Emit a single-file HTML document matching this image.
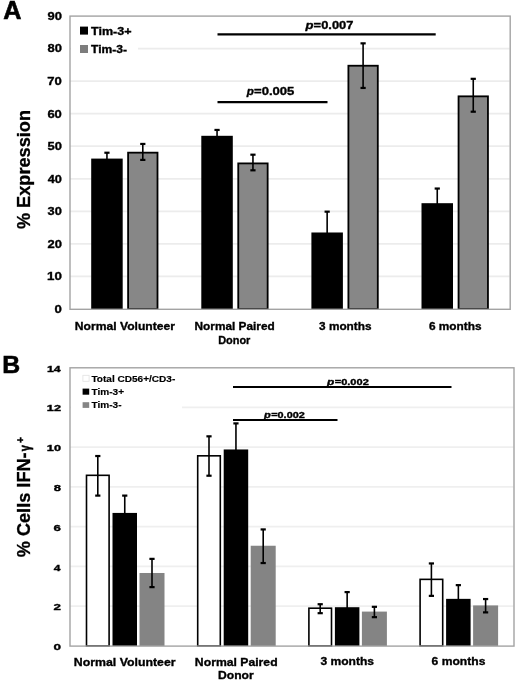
<!DOCTYPE html>
<html><head><meta charset="utf-8"><style>
html,body{margin:0;padding:0;background:#fff;}
svg{display:block;font-family:"Liberation Sans", sans-serif;filter:blur(0.55px);}
</style></head><body>
<svg width="520" height="682" viewBox="0 0 520 682">
<rect x="0" y="0" width="520" height="682" fill="#fff"/>
<line x1="70.00" y1="276.44" x2="509.50" y2="276.44" stroke="#ececec" stroke-width="1.8"/>
<line x1="70.00" y1="243.89" x2="509.50" y2="243.89" stroke="#ececec" stroke-width="1.8"/>
<line x1="70.00" y1="211.33" x2="509.50" y2="211.33" stroke="#ececec" stroke-width="1.8"/>
<line x1="70.00" y1="178.78" x2="509.50" y2="178.78" stroke="#ececec" stroke-width="1.8"/>
<line x1="70.00" y1="146.22" x2="509.50" y2="146.22" stroke="#ececec" stroke-width="1.8"/>
<line x1="70.00" y1="113.67" x2="509.50" y2="113.67" stroke="#ececec" stroke-width="1.8"/>
<line x1="70.00" y1="81.11" x2="509.50" y2="81.11" stroke="#ececec" stroke-width="1.8"/>
<line x1="70.00" y1="48.56" x2="509.50" y2="48.56" stroke="#ececec" stroke-width="1.8"/>
<rect x="71.00" y="20.00" width="67.00" height="38.00" fill="#fff"/>
<rect x="91.20" y="158.59" width="31.50" height="150.41" fill="#000"/>
<rect x="128.10" y="152.66" width="29.40" height="156.34" fill="#878787" stroke="#000" stroke-width="1.8"/>
<line x1="106.95" y1="152.73" x2="106.95" y2="164.45" stroke="#000" stroke-width="1.6"/>
<rect x="104.35" y="151.63" width="5.20" height="2.20" fill="#000"/>
<rect x="104.35" y="163.35" width="5.20" height="2.20" fill="#000"/>
<line x1="142.80" y1="143.94" x2="142.80" y2="159.90" stroke="#000" stroke-width="1.6"/>
<rect x="140.20" y="142.84" width="5.20" height="2.20" fill="#000"/>
<rect x="140.20" y="158.80" width="5.20" height="2.20" fill="#000"/>
<rect x="201.30" y="135.80" width="31.50" height="173.20" fill="#000"/>
<rect x="238.25" y="163.40" width="29.40" height="145.60" fill="#878787" stroke="#000" stroke-width="1.8"/>
<line x1="217.05" y1="129.94" x2="217.05" y2="141.66" stroke="#000" stroke-width="1.6"/>
<rect x="214.45" y="128.84" width="5.20" height="2.20" fill="#000"/>
<rect x="214.45" y="140.56" width="5.20" height="2.20" fill="#000"/>
<line x1="252.95" y1="154.69" x2="252.95" y2="170.31" stroke="#000" stroke-width="1.6"/>
<rect x="250.35" y="153.59" width="5.20" height="2.20" fill="#000"/>
<rect x="250.35" y="169.21" width="5.20" height="2.20" fill="#000"/>
<rect x="311.40" y="232.49" width="31.50" height="76.51" fill="#000"/>
<rect x="348.40" y="65.73" width="29.40" height="243.27" fill="#878787" stroke="#000" stroke-width="1.8"/>
<line x1="327.15" y1="211.66" x2="327.15" y2="253.33" stroke="#000" stroke-width="1.6"/>
<rect x="324.55" y="210.56" width="5.20" height="2.20" fill="#000"/>
<rect x="324.55" y="252.23" width="5.20" height="2.20" fill="#000"/>
<line x1="363.10" y1="43.35" x2="363.10" y2="87.95" stroke="#000" stroke-width="1.6"/>
<rect x="360.50" y="42.25" width="5.20" height="2.20" fill="#000"/>
<rect x="360.50" y="86.85" width="5.20" height="2.20" fill="#000"/>
<rect x="421.50" y="203.19" width="31.50" height="105.81" fill="#000"/>
<rect x="458.55" y="96.34" width="29.40" height="212.66" fill="#878787" stroke="#000" stroke-width="1.8"/>
<line x1="437.25" y1="188.54" x2="437.25" y2="217.84" stroke="#000" stroke-width="1.6"/>
<rect x="434.65" y="187.44" width="5.20" height="2.20" fill="#000"/>
<rect x="434.65" y="216.74" width="5.20" height="2.20" fill="#000"/>
<line x1="473.25" y1="78.83" x2="473.25" y2="111.71" stroke="#000" stroke-width="1.6"/>
<rect x="470.65" y="77.73" width="5.20" height="2.20" fill="#000"/>
<rect x="470.65" y="110.61" width="5.20" height="2.20" fill="#000"/>
<rect x="70.00" y="16.10" width="440.20" height="293.20" fill="none" stroke="#a3a3a3" stroke-width="1.4"/>
<text x="54.56" y="312.90" font-size="11" font-weight="bold" font-style="normal" textLength="7.31" lengthAdjust="spacingAndGlyphs" fill="#000" stroke="#000" stroke-width="0.35" >0</text>
<text x="47.03" y="280.34" font-size="11" font-weight="bold" font-style="normal" textLength="14.84" lengthAdjust="spacingAndGlyphs" fill="#000" stroke="#000" stroke-width="0.35" >10</text>
<text x="47.43" y="247.79" font-size="11" font-weight="bold" font-style="normal" textLength="14.43" lengthAdjust="spacingAndGlyphs" fill="#000" stroke="#000" stroke-width="0.35" >20</text>
<text x="47.58" y="215.23" font-size="11" font-weight="bold" font-style="normal" textLength="14.27" lengthAdjust="spacingAndGlyphs" fill="#000" stroke="#000" stroke-width="0.35" >30</text>
<text x="47.68" y="182.68" font-size="11" font-weight="bold" font-style="normal" textLength="14.17" lengthAdjust="spacingAndGlyphs" fill="#000" stroke="#000" stroke-width="0.35" >40</text>
<text x="47.48" y="150.12" font-size="11" font-weight="bold" font-style="normal" textLength="14.38" lengthAdjust="spacingAndGlyphs" fill="#000" stroke="#000" stroke-width="0.35" >50</text>
<text x="47.40" y="117.57" font-size="11" font-weight="bold" font-style="normal" textLength="14.46" lengthAdjust="spacingAndGlyphs" fill="#000" stroke="#000" stroke-width="0.35" >60</text>
<text x="47.31" y="85.01" font-size="11" font-weight="bold" font-style="normal" textLength="14.55" lengthAdjust="spacingAndGlyphs" fill="#000" stroke="#000" stroke-width="0.35" >70</text>
<text x="47.46" y="52.46" font-size="11" font-weight="bold" font-style="normal" textLength="14.39" lengthAdjust="spacingAndGlyphs" fill="#000" stroke="#000" stroke-width="0.35" >80</text>
<text x="47.43" y="19.90" font-size="11" font-weight="bold" font-style="normal" textLength="14.43" lengthAdjust="spacingAndGlyphs" fill="#000" stroke="#000" stroke-width="0.35" >90</text>
<rect x="80.00" y="26.60" width="8.00" height="8.00" fill="#000"/>
<rect x="80.00" y="45.00" width="8.00" height="8.00" fill="#7d7d7d"/>
<text x="91.04" y="34.60" font-size="11" font-weight="bold" font-style="normal" textLength="40.49" lengthAdjust="spacingAndGlyphs" fill="#000" stroke="#000" stroke-width="0.35" >Tim-3+</text>
<text x="91.04" y="52.60" font-size="11" font-weight="bold" font-style="normal" textLength="35.96" lengthAdjust="spacingAndGlyphs" fill="#000" stroke="#000" stroke-width="0.35" >Tim-3-</text>
<line x1="217.50" y1="34.30" x2="435.70" y2="34.30" stroke="#000" stroke-width="2.2"/>
<text x="305.46" y="29.20" font-size="11" font-weight="bold" font-style="italic" textLength="7.98" lengthAdjust="spacingAndGlyphs" fill="#000" stroke="#000" stroke-width="0.35" >p</text>
<text x="313.64" y="29.20" font-size="11" font-weight="bold" font-style="normal" textLength="39.75" lengthAdjust="spacingAndGlyphs" fill="#000" stroke="#000" stroke-width="0.35" >=0.007</text>
<line x1="217.50" y1="102.20" x2="327.50" y2="102.20" stroke="#000" stroke-width="2.2"/>
<text x="246.83" y="95.30" font-size="11" font-weight="bold" font-style="italic" textLength="7.17" lengthAdjust="spacingAndGlyphs" fill="#000" stroke="#000" stroke-width="0.35" >p</text>
<text x="254.03" y="95.30" font-size="11" font-weight="bold" font-style="normal" textLength="40.36" lengthAdjust="spacingAndGlyphs" fill="#000" stroke="#000" stroke-width="0.35" >=0.005</text>
<text x="74.87" y="330.00" font-size="11.5" font-weight="bold" font-style="normal" textLength="100.14" lengthAdjust="spacingAndGlyphs" fill="#000" stroke="#000" stroke-width="0.35" >Normal Volunteer</text>
<text x="194.58" y="330.00" font-size="11.5" font-weight="bold" font-style="normal" textLength="80.12" lengthAdjust="spacingAndGlyphs" fill="#000" stroke="#000" stroke-width="0.35" >Normal Paired</text>
<text x="218.14" y="344.30" font-size="11.5" font-weight="bold" font-style="normal" textLength="32.25" lengthAdjust="spacingAndGlyphs" fill="#000" stroke="#000" stroke-width="0.35" >Donor</text>
<text x="319.10" y="330.00" font-size="11.5" font-weight="bold" font-style="normal" textLength="52.40" lengthAdjust="spacingAndGlyphs" fill="#000" stroke="#000" stroke-width="0.35" >3 months</text>
<text x="428.94" y="330.00" font-size="11.5" font-weight="bold" font-style="normal" textLength="52.57" lengthAdjust="spacingAndGlyphs" fill="#000" stroke="#000" stroke-width="0.35" >6 months</text>
<text x="3.17" y="19.30" font-size="25.2" font-weight="bold" font-style="normal" textLength="18.19" lengthAdjust="spacingAndGlyphs" fill="#000" stroke="#000" stroke-width="0.6" >A</text>
<g transform="translate(30.20,228.80) rotate(-90)"><text x="-0.30" y="0" font-size="18" font-weight="bold" textLength="119.08" lengthAdjust="spacingAndGlyphs" stroke="#000" stroke-width="0.3">% Expression</text></g>
<line x1="70.00" y1="606.21" x2="513.50" y2="606.21" stroke="#efefef" stroke-width="1.8"/>
<line x1="70.00" y1="566.43" x2="513.50" y2="566.43" stroke="#efefef" stroke-width="1.8"/>
<line x1="70.00" y1="526.64" x2="513.50" y2="526.64" stroke="#efefef" stroke-width="1.8"/>
<line x1="70.00" y1="486.86" x2="513.50" y2="486.86" stroke="#efefef" stroke-width="1.8"/>
<line x1="70.00" y1="447.07" x2="513.50" y2="447.07" stroke="#efefef" stroke-width="1.8"/>
<line x1="70.00" y1="407.29" x2="513.50" y2="407.29" stroke="#efefef" stroke-width="1.8"/>
<rect x="71.00" y="372.00" width="111.00" height="40.00" fill="#fff"/>
<rect x="86.50" y="475.32" width="22.60" height="170.68" fill="#fff" stroke="#000" stroke-width="1.6"/>
<rect x="112.50" y="512.92" width="24.50" height="133.08" fill="#000"/>
<rect x="139.50" y="572.99" width="25.00" height="73.01" fill="#848484"/>
<line x1="97.80" y1="456.02" x2="97.80" y2="495.61" stroke="#000" stroke-width="1.6"/>
<rect x="95.20" y="454.92" width="5.20" height="2.20" fill="#000"/>
<rect x="95.20" y="494.51" width="5.20" height="2.20" fill="#000"/>
<line x1="124.75" y1="495.61" x2="124.75" y2="530.22" stroke="#000" stroke-width="1.6"/>
<rect x="122.15" y="494.51" width="5.20" height="2.20" fill="#000"/>
<rect x="122.15" y="529.12" width="5.20" height="2.20" fill="#000"/>
<line x1="152.00" y1="558.87" x2="152.00" y2="587.12" stroke="#000" stroke-width="1.6"/>
<rect x="149.40" y="557.77" width="5.20" height="2.20" fill="#000"/>
<rect x="149.40" y="586.02" width="5.20" height="2.20" fill="#000"/>
<rect x="197.70" y="455.82" width="22.60" height="190.18" fill="#fff" stroke="#000" stroke-width="1.6"/>
<rect x="223.70" y="449.46" width="24.50" height="196.54" fill="#000"/>
<rect x="250.70" y="545.74" width="25.00" height="100.26" fill="#848484"/>
<line x1="209.00" y1="436.33" x2="209.00" y2="475.72" stroke="#000" stroke-width="1.6"/>
<rect x="206.40" y="435.23" width="5.20" height="2.20" fill="#000"/>
<rect x="206.40" y="474.62" width="5.20" height="2.20" fill="#000"/>
<line x1="235.95" y1="423.40" x2="235.95" y2="475.52" stroke="#000" stroke-width="1.6"/>
<rect x="233.35" y="422.30" width="5.20" height="2.20" fill="#000"/>
<rect x="233.35" y="474.42" width="5.20" height="2.20" fill="#000"/>
<line x1="263.20" y1="529.43" x2="263.20" y2="563.05" stroke="#000" stroke-width="1.6"/>
<rect x="260.60" y="528.33" width="5.20" height="2.20" fill="#000"/>
<rect x="260.60" y="561.95" width="5.20" height="2.20" fill="#000"/>
<rect x="308.90" y="608.20" width="22.60" height="37.80" fill="#fff" stroke="#000" stroke-width="1.6"/>
<rect x="334.90" y="607.21" width="24.50" height="38.79" fill="#000"/>
<rect x="361.90" y="611.59" width="25.00" height="34.41" fill="#848484"/>
<line x1="320.20" y1="604.23" x2="320.20" y2="613.18" stroke="#000" stroke-width="1.6"/>
<rect x="317.60" y="603.12" width="5.20" height="2.20" fill="#000"/>
<rect x="317.60" y="612.08" width="5.20" height="2.20" fill="#000"/>
<line x1="347.15" y1="592.09" x2="347.15" y2="622.33" stroke="#000" stroke-width="1.6"/>
<rect x="344.55" y="590.99" width="5.20" height="2.20" fill="#000"/>
<rect x="344.55" y="621.23" width="5.20" height="2.20" fill="#000"/>
<line x1="374.40" y1="606.81" x2="374.40" y2="617.16" stroke="#000" stroke-width="1.6"/>
<rect x="371.80" y="605.71" width="5.20" height="2.20" fill="#000"/>
<rect x="371.80" y="616.06" width="5.20" height="2.20" fill="#000"/>
<rect x="420.10" y="579.36" width="22.60" height="66.64" fill="#fff" stroke="#000" stroke-width="1.6"/>
<rect x="446.10" y="598.85" width="24.50" height="47.15" fill="#000"/>
<rect x="473.10" y="605.42" width="25.00" height="40.58" fill="#848484"/>
<line x1="431.40" y1="563.44" x2="431.40" y2="595.87" stroke="#000" stroke-width="1.6"/>
<rect x="428.80" y="562.34" width="5.20" height="2.20" fill="#000"/>
<rect x="428.80" y="594.77" width="5.20" height="2.20" fill="#000"/>
<line x1="458.35" y1="585.13" x2="458.35" y2="612.58" stroke="#000" stroke-width="1.6"/>
<rect x="455.75" y="584.03" width="5.20" height="2.20" fill="#000"/>
<rect x="455.75" y="611.48" width="5.20" height="2.20" fill="#000"/>
<line x1="485.60" y1="599.05" x2="485.60" y2="612.38" stroke="#000" stroke-width="1.6"/>
<rect x="483.00" y="597.95" width="5.20" height="2.20" fill="#000"/>
<rect x="483.00" y="611.28" width="5.20" height="2.20" fill="#000"/>
<rect x="70.00" y="367.80" width="444.00" height="278.30" fill="none" stroke="#a3a3a3" stroke-width="1.4"/>
<text x="53.54" y="650.20" font-size="9.5" font-weight="bold" font-style="normal" textLength="7.54" lengthAdjust="spacingAndGlyphs" fill="#000" stroke="#000" stroke-width="0.35" >0</text>
<text x="53.61" y="610.41" font-size="9.5" font-weight="bold" font-style="normal" textLength="7.45" lengthAdjust="spacingAndGlyphs" fill="#000" stroke="#000" stroke-width="0.35" >2</text>
<text x="53.89" y="570.63" font-size="9.5" font-weight="bold" font-style="normal" textLength="6.70" lengthAdjust="spacingAndGlyphs" fill="#000" stroke="#000" stroke-width="0.35" >4</text>
<text x="53.59" y="530.84" font-size="9.5" font-weight="bold" font-style="normal" textLength="7.42" lengthAdjust="spacingAndGlyphs" fill="#000" stroke="#000" stroke-width="0.35" >6</text>
<text x="53.66" y="491.06" font-size="9.5" font-weight="bold" font-style="normal" textLength="7.27" lengthAdjust="spacingAndGlyphs" fill="#000" stroke="#000" stroke-width="0.35" >8</text>
<text x="46.87" y="451.27" font-size="9.5" font-weight="bold" font-style="normal" textLength="14.18" lengthAdjust="spacingAndGlyphs" fill="#000" stroke="#000" stroke-width="0.35" >10</text>
<text x="46.87" y="411.49" font-size="9.5" font-weight="bold" font-style="normal" textLength="14.16" lengthAdjust="spacingAndGlyphs" fill="#000" stroke="#000" stroke-width="0.35" >12</text>
<text x="46.90" y="371.70" font-size="9.5" font-weight="bold" font-style="normal" textLength="13.69" lengthAdjust="spacingAndGlyphs" fill="#000" stroke="#000" stroke-width="0.35" >14</text>
<rect x="82.90" y="375.30" width="6.20" height="6.00" fill="#fff" stroke="#e2e2e2" stroke-width="0.8"/>
<rect x="82.60" y="388.60" width="6.60" height="6.10" fill="#000"/>
<rect x="82.60" y="402.20" width="6.60" height="5.70" fill="#858585"/>
<text x="91.46" y="381.80" font-size="8.8" font-weight="bold" font-style="normal" textLength="83.86" lengthAdjust="spacingAndGlyphs" fill="#000" stroke="#000" stroke-width="0.15" >Total CD56+/CD3-</text>
<text x="91.46" y="395.10" font-size="8.8" font-weight="bold" font-style="normal" textLength="32.57" lengthAdjust="spacingAndGlyphs" fill="#000" stroke="#000" stroke-width="0.15" >Tim-3+</text>
<text x="91.46" y="408.30" font-size="8.8" font-weight="bold" font-style="normal" textLength="30.06" lengthAdjust="spacingAndGlyphs" fill="#000" stroke="#000" stroke-width="0.15" >Tim-3-</text>
<line x1="233.00" y1="387.00" x2="451.50" y2="387.00" stroke="#000" stroke-width="2.0"/>
<text x="326.94" y="384.50" font-size="9" font-weight="bold" font-style="italic" textLength="7.27" lengthAdjust="spacingAndGlyphs" fill="#000" stroke="#000" stroke-width="0.35" >p</text>
<text x="334.72" y="384.50" font-size="9" font-weight="bold" font-style="normal" textLength="34.05" lengthAdjust="spacingAndGlyphs" fill="#000" stroke="#000" stroke-width="0.35" >=0.002</text>
<line x1="233.00" y1="420.00" x2="337.50" y2="420.00" stroke="#000" stroke-width="2.0"/>
<text x="263.92" y="417.70" font-size="9" font-weight="bold" font-style="italic" textLength="6.76" lengthAdjust="spacingAndGlyphs" fill="#000" stroke="#000" stroke-width="0.35" >p</text>
<text x="271.22" y="417.70" font-size="9" font-weight="bold" font-style="normal" textLength="33.54" lengthAdjust="spacingAndGlyphs" fill="#000" stroke="#000" stroke-width="0.35" >=0.002</text>
<text x="73.86" y="665.70" font-size="11.5" font-weight="bold" font-style="normal" textLength="101.65" lengthAdjust="spacingAndGlyphs" fill="#000" stroke="#000" stroke-width="0.35" >Normal Volunteer</text>
<text x="194.86" y="665.70" font-size="11.5" font-weight="bold" font-style="normal" textLength="82.77" lengthAdjust="spacingAndGlyphs" fill="#000" stroke="#000" stroke-width="0.35" >Normal Paired</text>
<text x="218.07" y="678.70" font-size="11.5" font-weight="bold" font-style="normal" textLength="35.64" lengthAdjust="spacingAndGlyphs" fill="#000" stroke="#000" stroke-width="0.35" >Donor</text>
<text x="320.40" y="665.20" font-size="11.5" font-weight="bold" font-style="normal" textLength="53.62" lengthAdjust="spacingAndGlyphs" fill="#000" stroke="#000" stroke-width="0.35" >3 months</text>
<text x="431.63" y="665.20" font-size="11.5" font-weight="bold" font-style="normal" textLength="53.79" lengthAdjust="spacingAndGlyphs" fill="#000" stroke="#000" stroke-width="0.35" >6 months</text>
<text x="2.39" y="373.40" font-size="24.4" font-weight="bold" font-style="normal" textLength="17.94" lengthAdjust="spacingAndGlyphs" fill="#000" stroke="#000" stroke-width="0.6" >B</text>
<g transform="translate(30.20,557.00) rotate(-90)"><text x="-0.30" y="0" font-size="18" font-weight="bold" textLength="104.98" lengthAdjust="spacingAndGlyphs" stroke="#000" stroke-width="0.3">% Cells IFN-</text></g>
<g transform="translate(29.8,451.3) rotate(-90)"><text x="-0.04" y="0" font-size="15" font-weight="bold" textLength="6.09" lengthAdjust="spacingAndGlyphs" stroke="#000" stroke-width="0.6">γ</text></g>
<g transform="translate(23.6,443) rotate(-90)"><text x="0" y="0" font-size="10" font-weight="bold" stroke="#000" stroke-width="0.4">+</text></g>
</svg>
</body></html>
